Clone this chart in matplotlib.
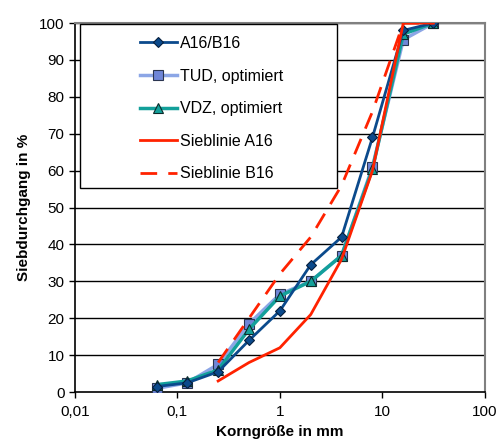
import matplotlib.pyplot as plt
from matplotlib.patches import Rectangle
from matplotlib.ticker import FixedLocator, NullLocator

plt.rcParams['font.family'] = ['Liberation Sans', 'DejaVu Sans']

# Siebweiten in mm
sieve = [0.063, 0.125, 0.25, 0.5, 1, 2, 4, 8, 16, 31.5]
a16b16 = [1.5, 2.5, 5.5, 14.0, 22.0, 34.5, 42.0, 69.0, 98.0, 100]
tud = [1.0, 2.5, 7.5, 18.5, 26.5, 30.0, 37.0, 61.0, 95.5, 100]
vdz = [2.0, 3.0, 6.0, 17.0, 26.0, 30.0, 37.0, 60.5, 97.0, 100]

# Grenzsieblinien nach DIN 1045
sieve_ref = [0.25, 0.5, 1, 2, 4, 8, 16, 31.5]
line_a16 = [3, 8, 12, 21, 36, 60, 100, 100]
line_b16 = [8, 20, 32, 42, 56, 76, 100, 100]

x_ticks = [0.01, 0.1, 1, 10, 100]
x_labels = ['0,01', '0,1', '1', '10', '100']
y_ticks = list(range(0, 101, 10))

fig = plt.figure(figsize=(5.02, 4.43), dpi=100)
ax = fig.add_axes([0.149, 0.115, 0.817, 0.833])

for y in y_ticks[1:]:
    ax.axhline(y, color='black', lw=1.0, zorder=1)

ax.plot(sieve, tud, color='#8CA6E6', lw=2.5, marker='s', ms=7,
        mfc='#6F86D8', mec='#2A3550', mew=0.8, label='TUD, optimiert', zorder=3)
ax.plot(sieve, vdz, color='#13A09A', lw=2.5, marker='^', ms=7,
        mfc='#13A09A', mec='#0C2A2A', mew=0.8, label='VDZ, optimiert', zorder=4)
ax.plot(sieve, a16b16, color='#0B4A8C', lw=2.0, marker='D', ms=5.5,
        mfc='#0B4A8C', mec='#061F3D', mew=0.8, label='A16/B16', zorder=5)
ax.plot(sieve_ref, line_a16, color='#FF2200', lw=2.0, label='Sieblinie A16', zorder=6)
ax.plot(sieve_ref, line_b16, color='#FF2200', lw=2.0, ls=(0, (6, 4)),
        label='Sieblinie B16', zorder=6)

ax.set_xscale('log')
ax.set_xlim(0.01, 100)
ax.set_ylim(0, 100)
ax.xaxis.set_major_locator(FixedLocator(x_ticks))
ax.xaxis.set_minor_locator(NullLocator())
ax.set_xticks(x_ticks, x_labels)
ax.set_yticks(y_ticks)
ax.tick_params(axis='both', labelsize=11, length=4, width=1, direction='out',
               colors='black')
ax.tick_params(axis='x', pad=5)

ax.set_xlabel('Korngröße in mm', fontsize=11, fontweight='bold', labelpad=5)
ax.set_ylabel('Siebdurchgang in %', fontsize=11, fontweight='bold', labelpad=6)

for side in ['top', 'right']:
    ax.spines[side].set_color('#808080')
    ax.spines[side].set_linewidth(1.5)
for side in ['left', 'bottom']:
    ax.spines[side].set_color('black')
    ax.spines[side].set_linewidth(1.2)

# Legendenrahmen separat, damit die Einträge rechts im Kasten sitzen
box = Rectangle((0.012, 0.553), 0.627, 0.444, transform=ax.transAxes,
                facecolor='white', edgecolor='black', lw=1.0, zorder=9)
ax.add_patch(box)

h, l = ax.get_legend_handles_labels()
order = [2, 0, 1, 3, 4]
leg = ax.legend([h[i] for i in order], [l[i] for i in order],
                loc='upper left', bbox_to_anchor=(0.158, 0.965),
                fontsize=11.5, frameon=False, labelspacing=1.1,
                handlelength=2.35, handletextpad=0.2, borderpad=0,
                borderaxespad=0)
leg.set_zorder(10)

fig.savefig('out.png', dpi=100)
